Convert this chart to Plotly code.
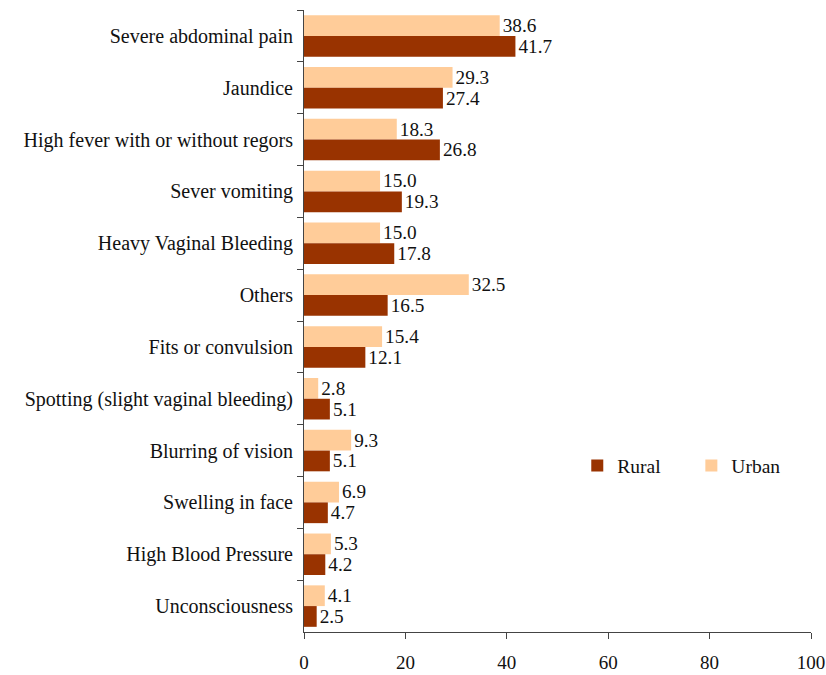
import plotly.graph_objects as go

categories = [
    "Severe abdominal pain",
    "Jaundice",
    "High fever with or without regors",
    "Sever vomiting",
    "Heavy Vaginal Bleeding",
    "Others",
    "Fits or convulsion",
    "Spotting (slight vaginal bleeding)",
    "Blurring of vision",
    "Swelling in face",
    "High Blood Pressure",
    "Unconsciousness",
]
urban = [38.6, 29.3, 18.3, 15.0, 15.0, 32.5, 15.4, 2.8, 9.3, 6.9, 5.3, 4.1]
rural = [41.7, 27.4, 26.8, 19.3, 17.8, 16.5, 12.1, 5.1, 5.1, 4.7, 4.2, 2.5]
x_ticks = [0, 20, 40, 60, 80, 100]

FONT = "Liberation Serif"
FS = 19.5
URBAN_C = "#FFCC99"
RURAL_C = "#993300"

fig = go.Figure()
fig.add_trace(go.Bar(
    name="Urban", y=categories, x=urban, orientation="h",
    marker=dict(color=URBAN_C, line=dict(width=0)),
    text=[f"{v:.1f}" for v in urban], textposition="outside",
    textfont=dict(family=FONT, size=FS, color="#111"),
    cliponaxis=False, legend="legend2",
))
fig.add_trace(go.Bar(
    name="Rural", y=categories, x=rural, orientation="h",
    marker=dict(color=RURAL_C, line=dict(width=0)),
    text=[f"{v:.1f}" for v in rural], textposition="outside",
    textfont=dict(family=FONT, size=FS, color="#111"),
    cliponaxis=False, legend="legend",
))

legend_style = dict(
    orientation="h", yanchor="middle", xanchor="left",
    font=dict(family=FONT, size=FS, color="#111"),
    itemwidth=30, bgcolor="rgba(0,0,0,0)",
)

fig.update_layout(
    width=826, height=675,
    margin=dict(l=304, r=15, t=10, b=43),
    barmode="group", bargap=0.2, bargroupgap=0,
    plot_bgcolor="white", paper_bgcolor="white",
    font=dict(family=FONT, size=FS, color="#111"),
    showlegend=True,
    legend=dict(x=0.539, y=0.267, **legend_style),
    legend2=dict(x=0.764, y=0.267, **legend_style),
    uniformtext=dict(mode=False),
)
fig.update_xaxes(
    range=[0, 100], tickvals=x_ticks, ticktext=[str(t) for t in x_ticks],
    showgrid=False, zeroline=False, automargin=False,
    showline=True, linecolor="#444", linewidth=1,
    ticks="outside", ticklen=6, tickcolor="#444",
    tickfont=dict(family=FONT, size=19, color="#111"),
    ticklabelstandoff=7,
)
fig.update_yaxes(
    categoryorder="array", categoryarray=categories,
    autorange="reversed", tickson="boundaries",
    showgrid=False, zeroline=False, automargin=False,
    showline=True, linecolor="#444", linewidth=1,
    ticks="outside", ticklen=6, tickcolor="#444",
    tickfont=dict(family=FONT, size=20, color="#111"),
    ticklabelstandoff=6,
)

fig.write_html("out.html")
